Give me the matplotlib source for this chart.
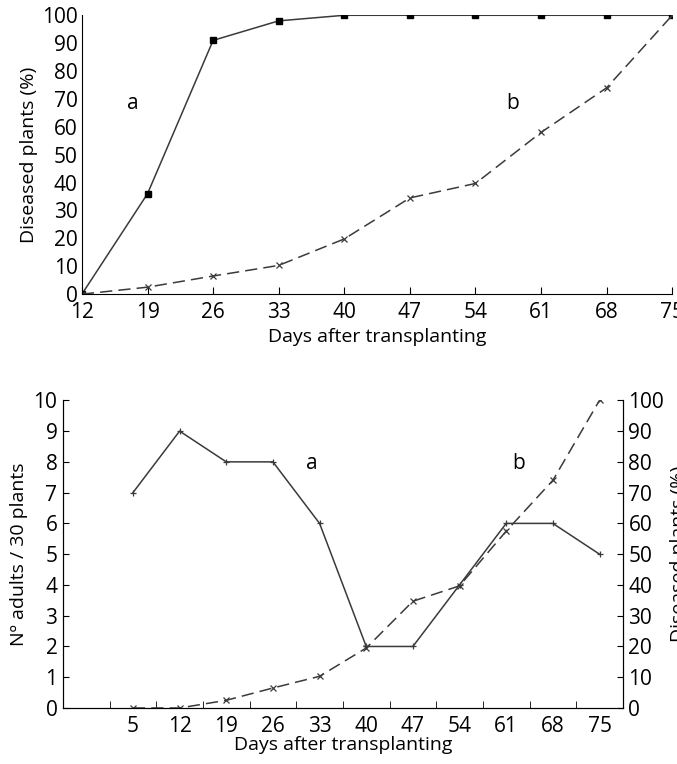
import matplotlib.pyplot as plt
from matplotlib.ticker import FixedLocator

plt.rcParams['font.family'] = ['Open Sans', 'DejaVu Sans']
plt.rcParams['font.size'] = 14

# top panel: diseased plants over time
top_days = [12, 19, 26, 33, 40, 47, 54, 61, 68, 75]
top_a = [0, 36, 91, 98, 100, 100, 100, 100, 100, 100]
top_b = [0, 2.5, 6.5, 10.3, 19.8, 34.5, 39.7, 58, 74, 100]

# bottom panel: adults per 30 plants vs diseased plants
bot_days = [5, 12, 19, 26, 33, 40, 47, 54, 61, 68, 75]
adults = [7, 9, 8, 8, 6, 2, 2, 4, 6, 6, 5]
diseased = [0, 0, 2.5, 6.5, 10.3, 19.5, 34.7, 39.7, 57.5, 74, 100]

line_col = '#3a3a3a'
tick_fs = 15
fig = plt.figure(figsize=(6.77, 7.64), dpi=100)

# ---- top chart
ax1 = fig.add_axes([0.121, 0.615, 0.872, 0.365])
ax1.plot(top_days, top_a, '-', color=line_col, lw=1.1, marker='s', ms=4.5,
         markerfacecolor='black', markeredgecolor='black')
ax1.plot(top_days, top_b, color=line_col, lw=1.1, dashes=(8, 4), marker='x', ms=5,
         markeredgewidth=0.9)
ax1.set_xlim(12, 75)
ax1.set_ylim(0, 100)
ax1.set_xticks(top_days)
ax1.set_yticks(range(0, 101, 10))
ax1.spines['top'].set_visible(False)
ax1.spines['right'].set_visible(False)
ax1.tick_params(axis='x', direction='in', length=5, pad=6, labelsize=tick_fs)
ax1.tick_params(axis='y', direction='in', length=0, pad=3, labelsize=tick_fs)
ax1.set_xlabel('Days after transplanting', labelpad=3)
ax1.set_ylabel('Diseased plants (%)', labelpad=3)
ax1.text(17.4, 68.5, 'a', ha='center', va='center', fontsize=15)
ax1.text(58, 68.5, 'b', ha='center', va='center', fontsize=15)

# ---- bottom chart
ax2 = fig.add_axes([0.093, 0.0733, 0.827, 0.4027])
ax2.plot(bot_days, adults, '-', color=line_col, lw=1.1, marker='+', ms=5,
         markeredgewidth=0.9)
ax2.set_xlim(-5.5, 78.5)
ax2.set_ylim(0, 10)
ax2.set_yticks(range(0, 11))
ax2.xaxis.set_major_locator(FixedLocator(bot_days))
ax2.xaxis.set_minor_locator(FixedLocator([d - 3.5 for d in bot_days]))
ax2.tick_params(axis='x', which='major', length=0, pad=6, labelsize=tick_fs)
ax2.tick_params(axis='x', which='minor', direction='in', length=5)
ax2.tick_params(axis='y', direction='in', length=4, pad=4, labelsize=tick_fs)
ax2.spines['top'].set_visible(False)
ax2.set_xlabel('Days after transplanting', labelpad=-1)
ax2.set_ylabel('Nº adults / 30 plants', labelpad=4)
ax2.text(31.8, 7.95, 'a', ha='center', va='center', fontsize=15)
ax2.text(62.9, 7.95, 'b', ha='center', va='center', fontsize=15)

ax3 = ax2.twinx()
ax3.plot(bot_days, diseased, color=line_col, lw=1.1, dashes=(8, 4), marker='x', ms=5,
         markeredgewidth=0.9)
ax3.set_ylim(0, 100)
ax3.set_yticks(range(0, 101, 10))
ax3.spines['top'].set_visible(False)
ax3.tick_params(axis='y', direction='in', length=4, pad=4, labelsize=tick_fs)
ax3.set_ylabel('Diseased plants (%)', rotation=90, labelpad=4)

fig.savefig('out.png', dpi=100)
